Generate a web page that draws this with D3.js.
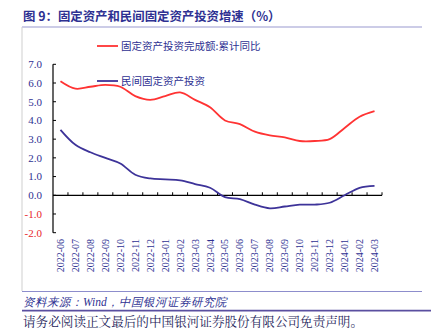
<!DOCTYPE html>
<html><head><meta charset="utf-8">
<script src="https://cdn.jsdelivr.net/npm/d3@7"></script>
<style>body{margin:0;background:#fff}svg{display:block}</style>
</head><body>
<svg id="c" width="431" height="329"></svg>
<script>
const categories = ["2022-06","2022-07","2022-08","2022-09","2022-10","2022-11","2022-12","2023-01","2023-02","2023-03","2023-04","2023-05","2023-06","2023-07","2023-08","2023-09","2023-10","2023-11","2023-12","2024-01","2024-02","2024-03"];
const faiTotal   = [6.1,5.7,5.8,5.9,5.8,5.3,5.1,5.3,5.5,5.1,4.7,4.0,3.8,3.4,3.2,3.1,2.9,2.9,3.0,3.6,4.2,4.5];
const faiPrivate = [3.5,2.7,2.3,2.0,1.7,1.1,0.9,0.85,0.8,0.6,0.4,-0.1,-0.2,-0.5,-0.7,-0.6,-0.5,-0.5,-0.4,0.0,0.4,0.5];
const yTicks = [7,6,5,4,3,2,1,0,-1,-2];
const seriesNames = ["固定资产投资完成额:累计同比","民间固定资产投资"];

const svg = d3.select("#c");
const navy = "#2e3192";
const serif = "'Liberation Serif','DejaVu Serif',serif";
const sans = "'Noto Sans CJK SC','Noto Sans',sans-serif";

// header
svg.append("text").attr("x",23).attr("y",21).attr("font-family",sans).attr("font-size",12.4)
  .attr("font-weight","bold").attr("fill",navy).text("图 9：固定资产和民间固定资产投资增速（%）");
svg.append("line").attr("x1",22).attr("x2",422).attr("y1",27).attr("y2",27).attr("stroke","#9a9ad0").attr("stroke-width",1.2);
svg.append("line").attr("x1",22).attr("x2",22).attr("y1",27).attr("y2",291).attr("stroke","#cfcfcf").attr("stroke-width",1);

const x = d3.scaleBand().domain(categories).range([53,382]);
const y = d3.scaleLinear().domain([-2,7]).range([232.7,64.3]);

// y axis
const gy = svg.append("g").attr("transform","translate(53,0)");
gy.append("line").attr("y1",y(7)).attr("y2",y(-2)).attr("stroke","#000").attr("stroke-width",1.2);
yTicks.forEach(t=>{
  gy.append("line").attr("x1",0).attr("x2",3).attr("y1",y(t)).attr("y2",y(t)).attr("stroke","#000");
  gy.append("text").attr("x",-11).attr("y",y(t)).attr("dy","0.35em").attr("text-anchor","end")
    .attr("font-family",serif).attr("font-size",11).attr("fill",t<0?"#e8262b":navy).text(t.toFixed(1));
});

// x axis at zero
const gx = svg.append("g").attr("transform",`translate(0,${y(0)})`);
gx.append("line").attr("x1",53).attr("x2",382).attr("stroke","#000").attr("stroke-width",1.2);
categories.forEach((c,i)=>{
  const bx = x(c)+x.bandwidth();
  gx.append("line").attr("x1",bx).attr("x2",bx).attr("y1",0).attr("y2",-3).attr("stroke","#000");
});
// x labels
categories.forEach(c=>{
  const cx = x(c)+x.bandwidth()/2;
  svg.append("text").attr("transform",`translate(${cx+3.5},239) rotate(-90)`).attr("text-anchor","end")
    .attr("font-family",serif).attr("font-size",10).attr("fill",navy).text(c);
});

// lines
const line = d3.line().x((d,i)=>x(categories[i])+x.bandwidth()/2).y(d=>y(d)).curve(d3.curveCatmullRom.alpha(0.5));
svg.append("path").attr("d",line(faiTotal)).attr("fill","none").attr("stroke","#ff3333").attr("stroke-width",1.8);
svg.append("path").attr("d",line(faiPrivate)).attr("fill","none").attr("stroke","#3d3399").attr("stroke-width",1.8);

// legend
const leg = [[seriesNames[0],"#ff3333",46],[seriesNames[1],"#3d3399",81]];
leg.forEach(([n,col,ly])=>{
  svg.append("line").attr("x1",97).attr("x2",118).attr("y1",ly).attr("y2",ly).attr("stroke",col).attr("stroke-width",1.8);
  svg.append("text").attr("x",121).attr("y",ly).attr("dy","0.35em").attr("font-family",sans).attr("font-size",10.5)
    .attr("fill",navy).text(n);
});

// footer
svg.append("line").attr("x1",22).attr("x2",422).attr("y1",291.5).attr("y2",291.5).attr("stroke","#8d8dcc").attr("stroke-width",1.2);
svg.append("text").attr("x",23).attr("y",306).attr("font-family","'Liberation Serif',serif").attr("font-style","italic")
  .attr("font-size",11.5).attr("fill",navy).text("资料来源：Wind，中国银河证券研究院");
svg.append("line").attr("x1",22).attr("x2",431).attr("y1",310.7).attr("y2",310.7).attr("stroke","#5a4fa0").attr("stroke-width",1.8);
svg.append("text").attr("x",23).attr("y",325.5).attr("font-family","'Noto Serif CJK SC','Liberation Serif',serif")
  .attr("font-size",12.6).attr("fill","#1f1f5c").text("请务必阅读正文最后的中国银河证券股份有限公司免责声明。");
</script>
</body></html>
